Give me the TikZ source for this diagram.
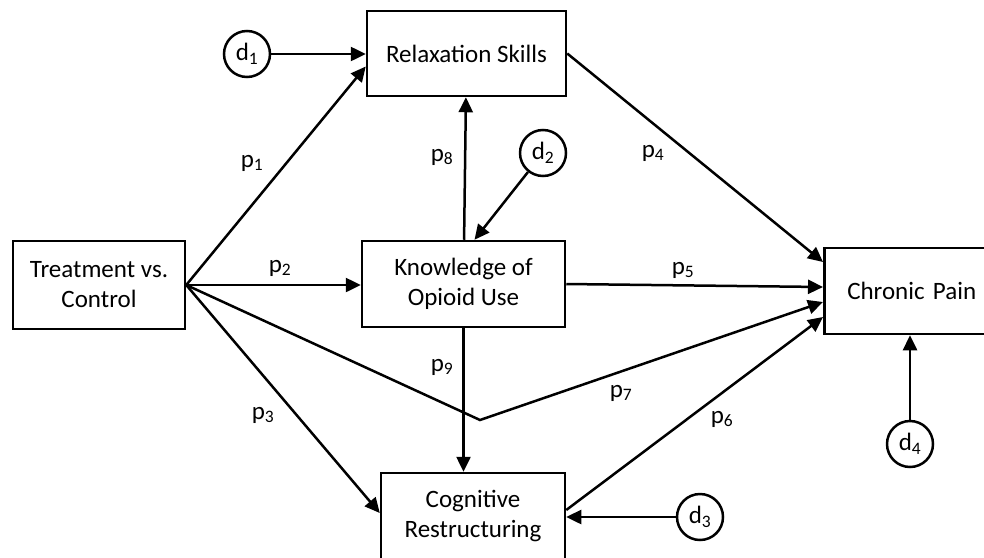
\documentclass[tikz,border=0pt]{standalone}
\usepackage{fontspec}
\setmainfont{Carlito}
\usetikzlibrary{arrows.meta,positioning,calc}

\begin{document}
\begin{tikzpicture}[x=1pt,y=-1pt,font=\fontsize{25}{30}\selectfont,
  var/.style={draw,line width=2.5pt,align=center,inner sep=0pt},
  dist/.style={draw,circle,line width=2.5pt,minimum size=46pt,inner sep=0pt},
  link/.style={line width=2.5pt,-{Triangle[length=15pt,width=14pt]}}]
\useasboundingbox (0,0) rectangle (984,557);
\clip (0,0) rectangle (984,557);
\node[var,minimum width=172pt,minimum height=88pt] (treat) at (99,285) {Treatment vs.\\Control};
\node[var,minimum width=199pt,minimum height=85pt] (relax) at (466.5,53.5) {Relaxation Skills};
\node[var,minimum width=203pt,minimum height=86pt] (know) at (463.5,284) {Knowledge of\\Opioid Use};
\node[var,minimum width=184pt,minimum height=86pt] (cog) at (473,516) {Cognitive\\Restructuring};
\node[var,minimum height=86pt,text width=250pt,align=left,inner xsep=23pt,anchor=west] (pain) at (823,291) {Chronic Pain};
\node[dist] (d1) at (247,54) {d\textsubscript{1}};
\node[dist] (d2) at (543,153) {d\textsubscript{2}};
\node[dist] (d3) at (700,517) {d\textsubscript{3}};
\node[dist] (d4) at (910,444) {d\textsubscript{4}};
\coordinate (bend) at (480,420);
\draw[link] (d1) -- (d1 -| relax.west);
\draw[link] (treat.east) -- ([yshift=-13pt]relax.west);
\draw[link] (treat.east) -- (treat.east -| know.west);
\draw[link] (treat.east) -- ([yshift=3pt]cog.west);
\draw[link] (treat.east) -- (bend) -- ([yshift=-11pt]pain.west);
\draw[link] (know) -- (relax);
\draw[link] (d2) -- ([xshift=11pt]know.north);
\draw[link] (know.east) -- ([yshift=4pt]pain.west);
\draw[link] (know.south) -- (know.south |- cog.north);
\draw[link] (relax.east) -- ([yshift=29pt]pain.west);
\draw[link] ([yshift=6pt]cog.east) -- ([yshift=-26pt]pain.west);
\draw[link] (d3) -- (d3 -| cog.east);
\draw[link] (d4) -- (d4 |- pain.south);
\node (p1) at (252,163) {p\textsubscript{1}};
\node (p2) at (280,268) {p\textsubscript{2}};
\node (p3) at (263,415) {p\textsubscript{3}};
\node (p4) at (653,153) {p\textsubscript{4}};
\node (p5) at (683,270) {p\textsubscript{5}};
\node (p6) at (722,419) {p\textsubscript{6}};
\node (p7) at (621,393) {p\textsubscript{7}};
\node (p8) at (442,157) {p\textsubscript{8}};
\node (p9) at (442,367) {p\textsubscript{9}};
\end{tikzpicture}
\end{document}
